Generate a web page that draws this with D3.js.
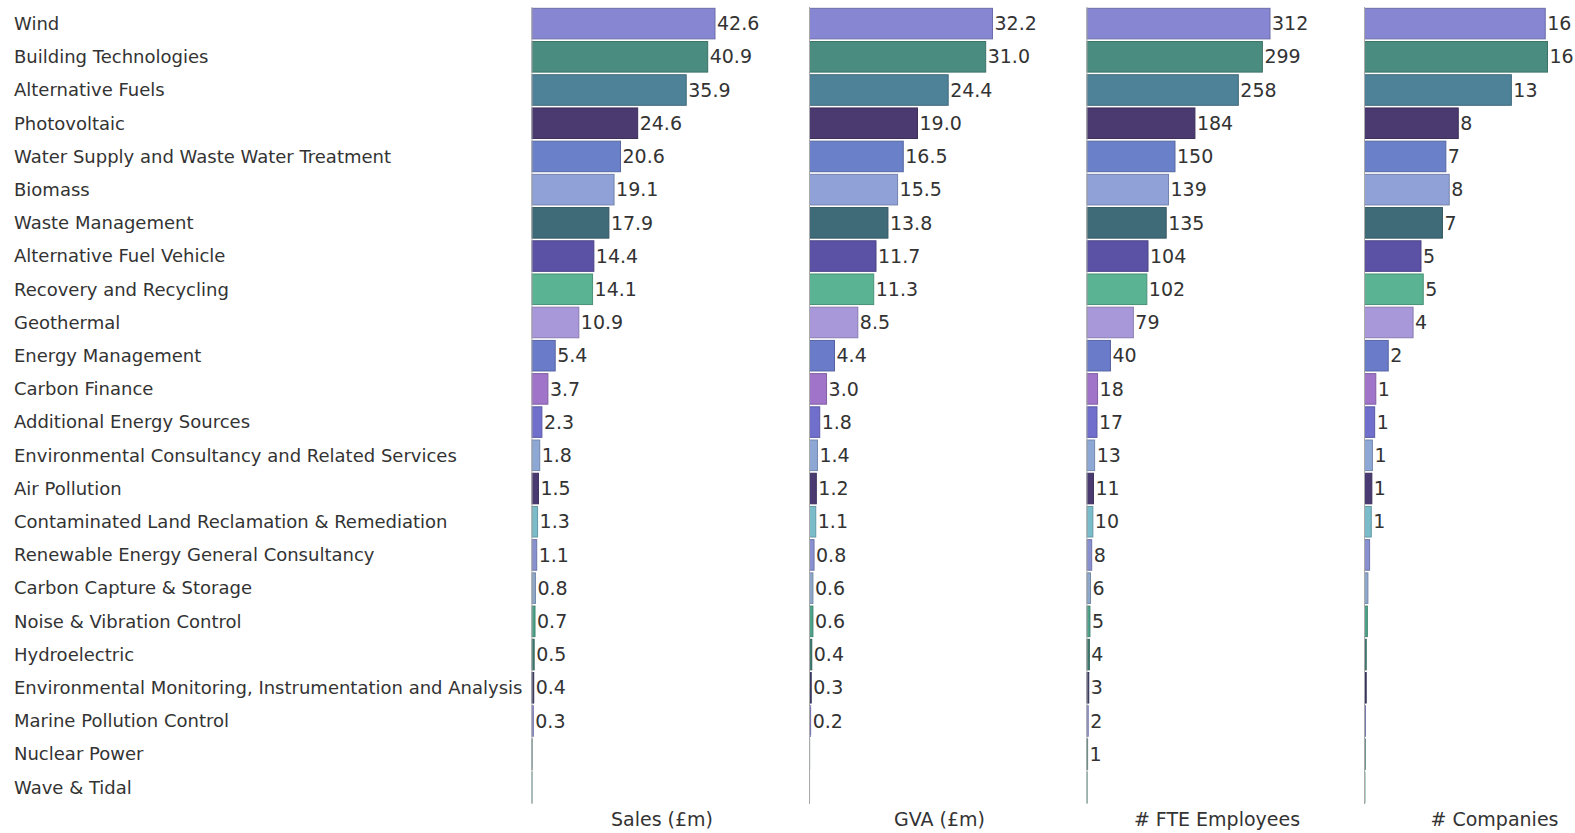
<!DOCTYPE html>
<html lang="en">
<head>
    <meta charset="UTF-8">
    <title>Environmental sectors</title>
    <style>
        body {
            margin: 0;
            background: #fff;
            font-family: "DejaVu Sans", sans-serif;
        }
        svg text {
            fill: #333;
        }
    </style>
</head>
<body>
    <svg id="chart" width="1575" height="833"></svg>

    <script src="https://cdnjs.cloudflare.com/ajax/libs/d3/7.8.5/d3.min.js"></script>
    <script>
        // data
        const categories = [
            "Wind", "Building Technologies", "Alternative Fuels", "Photovoltaic",
            "Water Supply and Waste Water Treatment", "Biomass", "Waste Management",
            "Alternative Fuel Vehicle", "Recovery and Recycling", "Geothermal",
            "Energy Management", "Carbon Finance", "Additional Energy Sources",
            "Environmental Consultancy and Related Services", "Air Pollution",
            "Contaminated Land Reclamation & Remediation", "Renewable Energy General Consultancy",
            "Carbon Capture & Storage", "Noise & Vibration Control", "Hydroelectric",
            "Environmental Monitoring, Instrumentation and Analysis", "Marine Pollution Control",
            "Nuclear Power", "Wave & Tidal"
        ];
        const sales = [42.6, 40.9, 35.9, 24.6, 20.6, 19.1, 17.9, 14.4, 14.1, 10.9, 5.4, 3.7,
            2.3, 1.8, 1.5, 1.3, 1.1, 0.8, 0.7, 0.5, 0.4, 0.3, 0.02, 0.01];
        const gva = [32.2, 31.0, 24.4, 19.0, 16.5, 15.5, 13.8, 11.7, 11.3, 8.5, 4.4, 3.0,
            1.8, 1.4, 1.2, 1.1, 0.8, 0.6, 0.6, 0.4, 0.3, 0.2, 0.02, 0.01];
        const fte = [312, 299, 258, 184, 150, 139, 135, 104, 102, 79, 40, 18,
            17, 13, 11, 10, 8, 6, 5, 4, 3, 2, 1, 0.3];
        const companies = [16.0, 16.2, 13.0, 8.3, 7.2, 7.5, 6.9, 5.0, 5.2, 4.3, 2.1, 1.0,
            0.9, 0.7, 0.65, 0.6, 0.45, 0.3, 0.25, 0.15, 0.15, 0.08, 0.06, 0.04];
        const colors = [
            "#8686d2", "#4a8c80", "#4e8298", "#4a3a70", "#6a80c8", "#8fa1d6", "#3f6b79",
            "#5b52a6", "#5ab393", "#a898da", "#6a7bc9", "#a074c8", "#7070cc", "#8ea8d6",
            "#4a3a72", "#7bbccb", "#8890d0", "#8ea8cc", "#4ea38b", "#3e7c72", "#3c3c6a",
            "#8888d6", "#4a8880", "#72c4b4"
        ];

        const panels = [
            { title: "Sales (£m)", values: sales, fmt: d3.format(".1f") },
            { title: "GVA (£m)", values: gva, fmt: d3.format(".1f") },
            { title: "# FTE Employees", values: fte, fmt: d3.format(".0f") },
            { title: "# Companies", values: companies, fmt: d3.format(".0f") }
        ];

        const svg = d3.select("#chart");
        const firstPanelX = 532;
        const panelStep = 277.5;
        const barMax = 183;

        const y = d3.scaleBand()
            .domain(categories)
            .range([7, 804])
            .paddingInner(0.08)
            .paddingOuter(0.04);

        // category labels
        svg.append("g")
            .selectAll("text")
            .data(categories)
            .enter()
            .append("text")
            .attr("x", 14)
            .attr("y", d => y(d) + y.bandwidth() / 2)
            .attr("dy", "0.35em")
            .attr("font-size", "18px")
            .text(d => d);

        panels.forEach((p, i) => {
            const g = svg.append("g")
                .attr("transform", `translate(${firstPanelX + i * panelStep},0)`);

            const x = d3.scaleLinear()
                .domain([0, d3.max(p.values)])
                .range([0, barMax]);

            const rows = p.values.map((v, j) => ({ cat: categories[j], value: v, color: colors[j] }));

            g.append("g")
                .selectAll("rect")
                .data(rows)
                .enter()
                .append("rect")
                .attr("x", 0)
                .attr("y", d => y(d.cat))
                .attr("width", d => x(d.value))
                .attr("height", y.bandwidth())
                .attr("fill", d => d.color)
                .attr("stroke", d => d3.color(d.color).darker(0.6))
                .attr("stroke-width", 1);

            g.append("g")
                .selectAll("text")
                .data(rows.filter(d => +p.fmt(d.value) !== 0))
                .enter()
                .append("text")
                .attr("x", d => x(d.value) + 2)
                .attr("y", d => y(d.cat) + y.bandwidth() / 2)
                .attr("dy", "0.35em")
                .attr("font-size", "19px")
                .text(d => p.fmt(d.value));

            // axis line
            g.append("line")
                .attr("x1", 0).attr("x2", 0)
                .attr("y1", 7).attr("y2", 804)
                .attr("stroke", "#aaa");

            g.append("text")
                .attr("x", 130)
                .attr("y", 819)
                .attr("dy", "0.35em")
                .attr("text-anchor", "middle")
                .attr("font-size", "19px")
                .text(p.title);
        });
    </script>
</body>
</html>
